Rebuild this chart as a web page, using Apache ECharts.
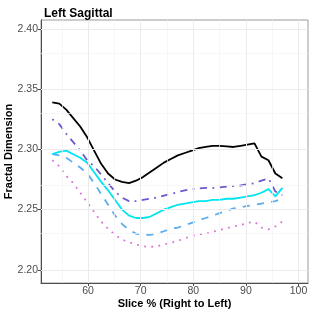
<!DOCTYPE html>
<html>
<head>
<meta charset="utf-8">
<script src="https://cdn.jsdelivr.net/npm/echarts@6/dist/echarts.min.js"></script>
<style>
  html, body { margin: 0; padding: 0; background: #ffffff; }
  #chart { width: 312px; height: 312px; }
</style>
</head>
<body>
<div id="chart"></div>
<script>
const sliceX = [53.20, 54.53, 55.85, 57.18, 58.50, 59.83, 61.15, 62.48, 63.80, 65.13,
  66.45, 67.78, 69.10, 70.43, 71.75, 73.08, 74.40, 75.73, 77.05, 78.38,
  79.70, 81.03, 82.35, 83.68, 85.00, 86.33, 87.65, 88.98, 90.30, 91.63,
  92.95, 94.28, 95.60, 96.93];

const blackLine = [2.339, 2.338, 2.333, 2.326, 2.319, 2.310, 2.299, 2.288, 2.280, 2.275,
  2.273, 2.272, 2.274, 2.277, 2.281, 2.285, 2.289, 2.292, 2.295, 2.297,
  2.299, 2.301, 2.302, 2.303, 2.303, 2.3025, 2.302, 2.303, 2.304, 2.305,
  2.294, 2.291, 2.280, 2.276];

const cyanLine = [2.296, 2.298, 2.299, 2.296, 2.293, 2.289, 2.281, 2.273, 2.266, 2.258,
  2.250, 2.245, 2.243, 2.243, 2.244, 2.247, 2.250, 2.252, 2.254, 2.255,
  2.256, 2.257, 2.257, 2.258, 2.258, 2.259, 2.259, 2.260, 2.261, 2.262,
  2.264, 2.267, 2.261, 2.268];

const purpleLine = [2.325, 2.321, 2.313, 2.306, 2.299, 2.291, 2.286, 2.279, 2.272, 2.265,
  2.260, 2.257, 2.257, 2.258, 2.259, 2.260, 2.2615, 2.263, 2.2645, 2.266,
  2.267, 2.2675, 2.268, 2.268, 2.2685, 2.269, 2.2695, 2.270, 2.271, 2.272,
  2.274, 2.276, 2.265, 2.262];

const blueLine = [2.296, 2.295, 2.293, 2.289, 2.285, 2.280, 2.272, 2.263, 2.254, 2.245,
  2.238, 2.233, 2.230, 2.229, 2.229, 2.230, 2.232, 2.234, 2.235, 2.237,
  2.239, 2.241, 2.243, 2.245, 2.247, 2.249, 2.251, 2.252, 2.253, 2.254,
  2.255, 2.256, 2.257, 2.259];

const pinkLine = [2.291, 2.286, 2.278, 2.272, 2.264, 2.256, 2.248, 2.240, 2.234, 2.229,
  2.225, 2.223, 2.221, 2.2195, 2.219, 2.2195, 2.221, 2.2225, 2.224, 2.226,
  2.228, 2.2295, 2.230, 2.2315, 2.233, 2.2345, 2.236, 2.237, 2.239, 2.240,
  2.235, 2.2335, 2.236, 2.240];

const xTicks = [60, 70, 80, 90, 100];
const xMinor = [55, 65, 75, 85, 95];
const yTicks = [2.20, 2.25, 2.30, 2.35, 2.40];
const yMinor = [2.225, 2.275, 2.325, 2.375];

function pairs(ys) { return sliceX.map((x, i) => [x, ys[i]]); }

const majorStyle = { color: '#EBEBEB', width: 1, type: 'solid' };
const minorStyle = { color: '#F4F4F4', width: 0.7, type: 'solid' };
const gridLines = [];
xMinor.forEach(v => gridLines.push({ xAxis: v, lineStyle: minorStyle }));
yMinor.forEach(v => gridLines.push({ yAxis: v, lineStyle: minorStyle }));
xTicks.forEach(v => gridLines.push({ xAxis: v, lineStyle: majorStyle }));
yTicks.forEach(v => gridLines.push({ yAxis: v, lineStyle: majorStyle }));

const font = 'Liberation Sans, Arial, Helvetica, sans-serif';
const lw = 1.8;

function lineSeries(name, ys, color, dash, z) {
  return {
    name: name, type: 'line', data: pairs(ys), showSymbol: false, symbol: 'none',
    smooth: false, z: z, animation: false,
    lineStyle: { color: color, width: lw, type: dash, cap: 'butt', join: 'round' }
  };
}

const chart = echarts.init(document.getElementById('chart'), null, { renderer: 'canvas' });
chart.setOption({
  animation: false,
  backgroundColor: '#ffffff',
  title: {
    text: 'Left Sagittal', left: 39, top: 3,
    textStyle: { fontFamily: font, fontSize: 12, fontWeight: 'bold', color: '#000000' }
  },
  grid: { left: 41, right: 4, top: 20, bottom: 29, containLabel: false, outerBoundsMode: 'none',
    show: true, borderColor: '#9a9a9a', borderWidth: 1, backgroundColor: 'transparent' },
  xAxis: {
    type: 'value', min: 51.05, max: 101.8,
    name: 'Slice % (Right to Left)', nameLocation: 'middle', nameGap: 15, nameMoveOverlap: false,
    nameTextStyle: { fontFamily: font, fontSize: 11, fontWeight: 'bold', color: '#000000' },
    axisLine: { show: true, onZero: false, lineStyle: { color: '#4d4d4d', width: 1 } },
    axisTick: { show: true, length: 3, customValues: xTicks, lineStyle: { color: '#4d4d4d' } },
    axisLabel: { customValues: xTicks, margin: 3, fontFamily: font, fontSize: 10.5, color: '#4d4d4d' },
    splitLine: { show: false }
  },
  yAxis: {
    type: 'value', min: 2.189, max: 2.4075,
    name: 'Fractal Dimension', nameLocation: 'middle', nameGap: 27, nameMoveOverlap: false,
    nameTextStyle: { fontFamily: font, fontSize: 11, fontWeight: 'bold', color: '#000000' },
    axisLine: { show: true, onZero: false, lineStyle: { color: '#4d4d4d', width: 1 } },
    axisTick: { show: true, length: 3, customValues: yTicks, lineStyle: { color: '#4d4d4d' } },
    axisLabel: { customValues: yTicks, margin: 3, fontFamily: font, fontSize: 10.5, color: '#4d4d4d',
      formatter: v => v.toFixed(2) },
    splitLine: { show: false }
  },
  series: [
    {
      type: 'line', data: [], z: 1, silent: true,
      markLine: { silent: true, symbol: ['none', 'none'], label: { show: false }, animation: false, data: gridLines }
    },
    lineSeries('pink', pinkLine, '#DA70D6', [1.8, 5.4], 3),
    lineSeries('blue', blueLine, '#5CACEE', [7.2, 7.2], 3),
    lineSeries('cyan', cyanLine, '#00E5EE', 'solid', 3),
    lineSeries('purple', purpleLine, '#6A5ACD', [1.8, 5.4, 7.2, 5.4], 3),
    lineSeries('black', blackLine, '#000000', 'solid', 4)
  ]
});
</script>
</body>
</html>
